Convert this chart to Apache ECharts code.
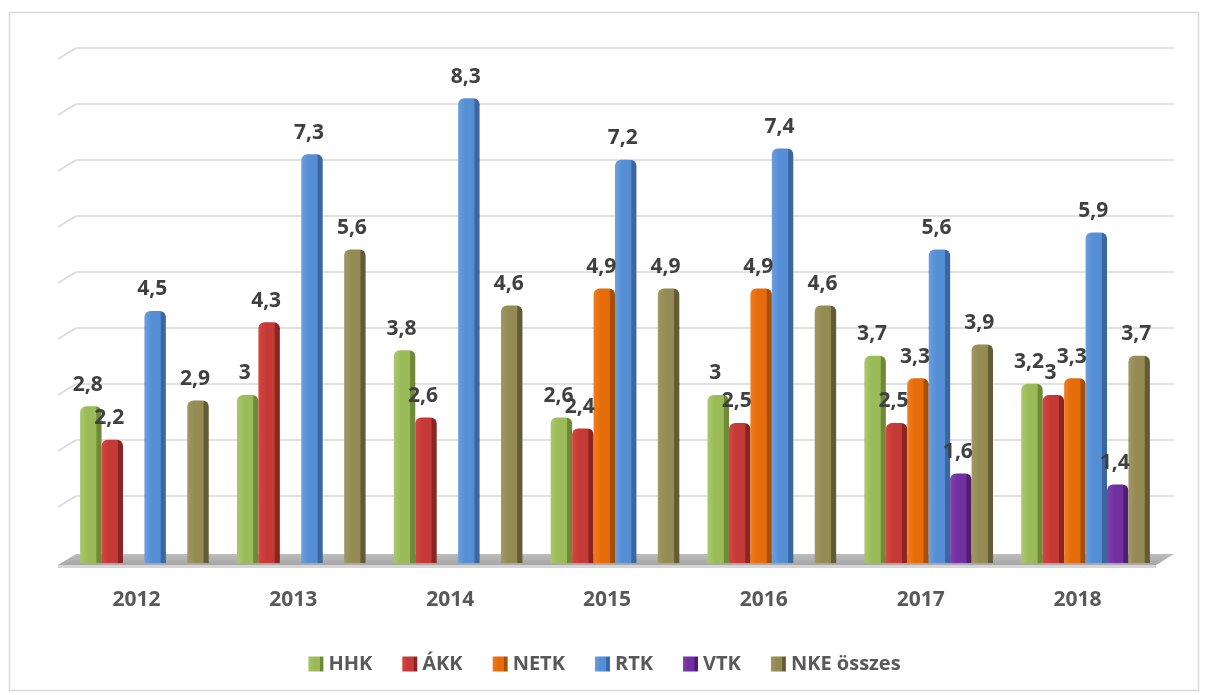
<!DOCTYPE html>
<html>
<head>
<meta charset="utf-8">
<script src="https://cdn.jsdelivr.net/npm/echarts@6/dist/echarts.min.js"></script>
<style>
  html, body { margin: 0; padding: 0; background: #ffffff; }
  #chart { width: 1209px; height: 695px; }
</style>
</head>
<body>
<div id="chart"></div>
<script>
// ---- data ----
const categories = ['2012', '2013', '2014', '2015', '2016', '2017', '2018'];
const seriesNames = ['HHK', 'ÁKK', 'NETK', 'RTK', 'VTK', 'NKE összes'];
const hhk  = [2.8, 3, 3.8, 2.6, 3, 3.7, 3.2];
const akk  = [2.2, 4.3, 2.6, 2.4, 2.5, 2.5, 3];
const netk = [null, null, null, 4.9, 4.9, 3.3, 3.3];
const rtk  = [4.5, 7.3, 8.3, 7.2, 7.4, 5.6, 5.9];
const vtk  = [null, null, null, null, null, 1.6, 1.4];
const nke  = [2.9, 5.6, 4.6, 4.9, 4.6, 3.9, 3.7];
const gridTicks = [1, 2, 3, 4, 5, 6, 7, 8, 9];

// ---- styles ----
const palette = [
  ['#a9c86b', '#9bbb59', '#6e8a36'],
  ['#d84441', '#c43a37', '#8a2523'],
  ['#f27d1e', '#e46c0a', '#a84f06'],
  ['#6a9fe0', '#558ed5', '#3b67a1'],
  ['#8040b0', '#7030a0', '#4d1f70'],
  ['#a19763', '#948a54', '#635b35']
];
const DX = 18, DY = -11, SHIFT = 8;
const FONT = '"Open Sans", Lato, sans-serif';

function grad(c) {
  return new echarts.graphic.LinearGradient(0, 0, 1, 0, [
    { offset: 0, color: c[0] },
    { offset: 0.35, color: c[1] },
    { offset: 0.74, color: c[1] },
    { offset: 0.78, color: c[2] },
    { offset: 1, color: c[2] }
  ]);
}

const values = [hhk, akk, netk, rtk, vtk, nke];
const barSeries = seriesNames.map((name, i) => ({
  name: name,
  type: 'bar',
  data: values[i],
  barGap: '0%',
  barCategoryGap: '18%',
  z: 3,
  itemStyle: { color: grad(palette[i]), borderRadius: [6, 6, 0, 0] },
  label: {
    show: true,
    position: 'top',
    distance: 11,
    offset: [-3, 0],
    color: '#404040',
    fontFamily: FONT,
    fontWeight: 'bold',
    fontSize: 21,
    formatter: p => (p.value == null ? '' : String(p.value).replace('.', ','))
  }
}));

const gridSeries = {
  name: '_grid',
  type: 'custom',
  z: 1,
  silent: true,
  data: gridTicks.map(v => [0, v]),
  renderItem: function (params, api) {
    const cs = params.coordSys;
    const y = api.coord([0, api.value(1)])[1];
    const x0 = cs.x - SHIFT;
    const style = { stroke: '#d9d9d9', lineWidth: 1.5, fill: null };
    return {
      type: 'group',
      children: [
        { type: 'line', shape: { x1: x0, y1: y, x2: x0 + DX, y2: y + DY }, style: style },
        { type: 'line', shape: { x1: x0 + DX, y1: y + DY, x2: x0 + cs.width + DX, y2: y + DY }, style: style }
      ]
    };
  }
};

const floorSeries = {
  name: '_floor',
  type: 'custom',
  z: 2,
  silent: true,
  data: [[0, 0]],
  renderItem: function (params, api) {
    const cs = params.coordSys;
    const y = api.coord([0, 0])[1];
    const x0 = cs.x - SHIFT, x1 = cs.x - SHIFT + cs.width;
    return {
      type: 'group',
      children: [
        { type: 'polygon', shape: { points: [[x0, y + 2], [x1, y + 2], [x1 + DX, y + 2 + DY], [x0 + DX, y + 2 + DY]] },
          style: { fill: new echarts.graphic.LinearGradient(0, 0, 0, 1, [
            { offset: 0, color: '#bdbdbd' }, { offset: 1, color: '#a6a6a6' }]) } },
        { type: 'rect', shape: { x: x0, y: y + 2, width: x1 - x0, height: 3 },
          style: { fill: '#d6d6d6' } }
      ]
    };
  }
};

const chart = echarts.init(document.getElementById('chart'));
chart.setOption({
  backgroundColor: '#ffffff',
  animation: false,
  graphic: [{
    type: 'rect', silent: true, z: -10,
    shape: { x: 9.5, y: 12.5, width: 1189, height: 678 },
    style: { fill: null, stroke: '#d9d9d9', lineWidth: 1.5 }
  }],
  grid: { left: 66, right: 45, top: 59, bottom: 132 },
  legend: {
    data: seriesNames,
    left: 'center',
    top: 649,
    itemWidth: 15,
    itemHeight: 15,
    itemGap: 30,
    icon: 'rect',
    textStyle: { color: '#595959', fontFamily: FONT, fontWeight: 'bold', fontSize: 20 }
  },
  xAxis: {
    type: 'category',
    data: categories,
    axisLine: { show: false },
    axisTick: { show: false },
    axisLabel: { color: '#595959', fontFamily: FONT, fontWeight: 'bold', fontSize: 21, margin: 27, padding: [0, 2 * SHIFT, 0, 0] }
  },
  yAxis: {
    type: 'value',
    min: 0, max: 9, interval: 1,
    axisLine: { show: false },
    axisTick: { show: false },
    axisLabel: { show: false },
    splitLine: { show: false }
  },
  series: [gridSeries, floorSeries].concat(barSeries)
});
</script>
</body>
</html>
